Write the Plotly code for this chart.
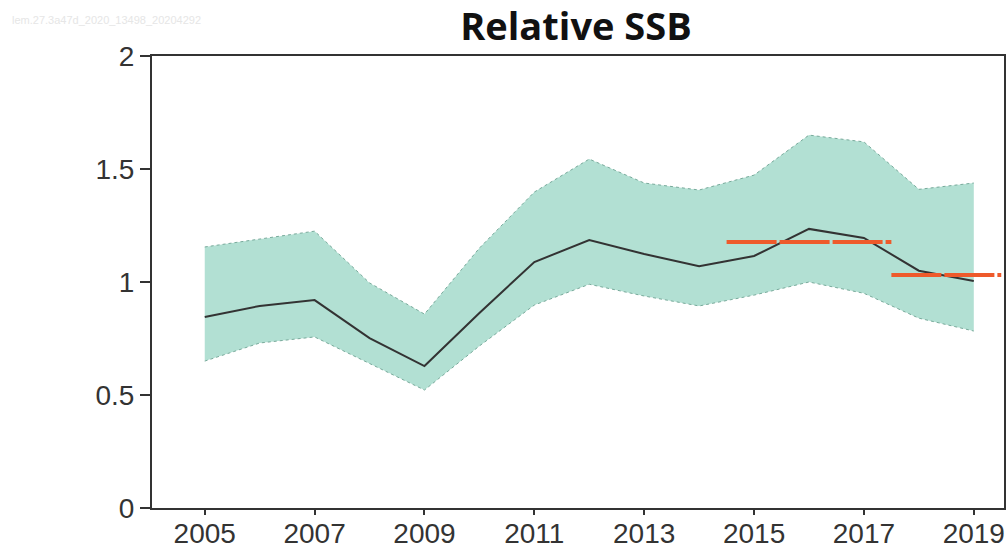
import plotly.graph_objects as go

years = list(range(2005, 2020))
ssb = [0.845, 0.894, 0.92, 0.752, 0.628, 0.863, 1.088, 1.186, 1.124, 1.07, 1.115, 1.235, 1.195, 1.05, 1.004]
upper = [1.155, 1.19, 1.225, 0.996, 0.858, 1.15, 1.398, 1.544, 1.438, 1.407, 1.473, 1.65, 1.62, 1.41, 1.438]
lower = [0.65, 0.73, 0.757, 0.64, 0.522, 0.717, 0.898, 0.99, 0.938, 0.894, 0.942, 1.0, 0.95, 0.84, 0.783]

mean1_x = [2014.5, 2017.5]
mean1_y = [1.177, 1.177]
mean2_x = [2017.5, 2019.5]
mean2_y = [1.031, 1.031]

xticks = [2005, 2007, 2009, 2011, 2013, 2015, 2017, 2019]
yticks = [0, 0.5, 1, 1.5, 2]
yticklabels = ["0", "0.5", "1", "1.5", "2"]

fill_col = "rgb(178,224,211)"
edge_col = "rgb(120,170,155)"

fig = go.Figure()
fig.add_trace(go.Scatter(x=years, y=upper, mode="lines",
                         line=dict(color=edge_col, width=1, dash="dot"),
                         hoverinfo="skip", showlegend=False))
fig.add_trace(go.Scatter(x=years, y=lower, mode="lines", fill="tonexty",
                         fillcolor=fill_col,
                         line=dict(color=edge_col, width=1, dash="dot"),
                         hoverinfo="skip", showlegend=False))
fig.add_trace(go.Scatter(x=years, y=ssb, mode="lines",
                         line=dict(color="#333333", width=2),
                         showlegend=False))
fig.add_trace(go.Scatter(x=mean1_x, y=mean1_y, mode="lines",
                         line=dict(color="#EE5A2B", width=4, dash="50px,3px"),
                         showlegend=False))
fig.add_trace(go.Scatter(x=mean2_x, y=mean2_y, mode="lines",
                         line=dict(color="#EE5A2B", width=4, dash="50px,3px"),
                         showlegend=False))

fig.update_layout(
    width=1008, height=549,
    margin=dict(l=152, r=4, t=56, b=41),
    paper_bgcolor="white", plot_bgcolor="white",
    font=dict(family="Liberation Sans, Arial, sans-serif", color="#333333"),
    title=dict(text="<b>Relative SSB</b>", x=576 / 1008, xanchor="center",
               xref="container", y=1 - 27 / 549, yanchor="middle", yref="container",
               automargin=False,
               font=dict(family="Open Sans, Noto Sans, sans-serif", size=38, color="#111111")),
    xaxis=dict(range=[2004.04, 2019.55], tickvals=xticks, ticktext=[str(t) for t in xticks],
               showgrid=False, zeroline=False, showline=True, linecolor="#333333", linewidth=2,
               mirror=True, ticks="outside", ticklen=5, tickcolor="#333333", tickwidth=2,
               ticklabelstandoff=-6,
               automargin=False, tickfont=dict(size=28, color="#333333")),
    yaxis=dict(range=[0, 2], tickvals=yticks, ticktext=yticklabels,
               showgrid=False, zeroline=False, showline=True, linecolor="#333333", linewidth=2,
               mirror=True, ticks="outside", ticklen=10, tickcolor="#333333", tickwidth=2,
               automargin=False, tickfont=dict(size=28, color="#333333")),
    annotations=[dict(text="lem.27.3a47d_2020_13498_20204292", xref="paper", yref="paper",
                      x=-142 / 852, y=1 + 36 / 452, xanchor="left", yanchor="middle",
                      showarrow=False, font=dict(size=11, color="#e6e6e6"))],
)

fig.write_html("out.html", config={"displayModeBar": False},
               post_script="document.body.style.margin='0px';document.body.style.overflow='hidden';")
